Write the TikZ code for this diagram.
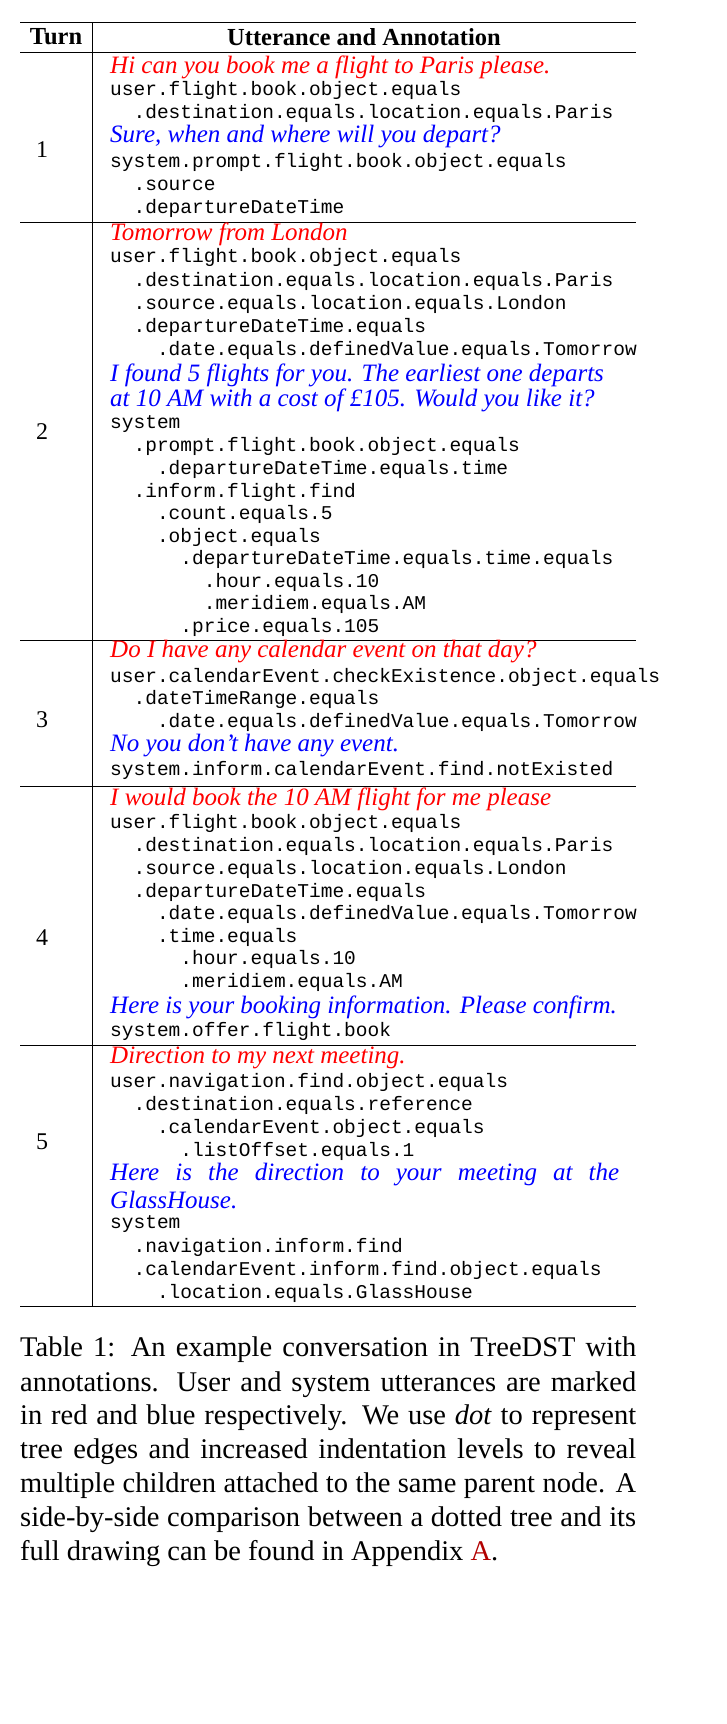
\documentclass[tikz,border=0pt]{standalone}
\usepackage{fontspec}
\setmainfont{Liberation Serif}
\setmonofont{Liberation Mono}
\tikzset{
 mono/.style={anchor=west,inner sep=0pt,font=\fontsize{19.5}{22}\ttfamily},
 usr/.style={anchor=west,inner sep=0pt,text=red,font=\fontsize{25}{28}\itshape},
 sys/.style={anchor=west,inner sep=0pt,text=blue,font=\fontsize{25}{28}\itshape},
 turn/.style={inner sep=0pt,font=\fontsize{24}{26}\selectfont},
 hdr/.style={inner sep=0pt,font=\fontsize{24.5}{26}\bfseries},
 captext/.style={anchor=west,inner sep=0pt,font=\fontsize{28.5}{32}\selectfont},
 rule/.style={line width=0.8pt}
}
\newcommand{\ml}[4]{\node[mono] (#1) at ({110pt+23.4pt*#3},-#2pt) {#4};}
\newcommand{\ut}[4]{\node[#3] (#1) at (110pt,-#2pt) {#4};}
\newcommand{\cl}[3]{\node[captext] (#1) at (20pt,-#2pt) {\hbox to 616pt{#3}};}
\begin{document}
\begin{tikzpicture}
\useasboundingbox (0,0) rectangle (726pt,-1724pt);
\coordinate (tl) at (20pt,-22pt); \coordinate (tr) at (636pt,-22pt);
\draw[rule] (tl) -- (tr);
\foreach \y in {52,222,640,786,1045,1306} \draw[rule] (20pt,-\y pt) -- (636pt,-\y pt);
\draw[rule] (92pt,-22pt) -- (92pt,-1306pt);
\node[hdr] (h1) at (56pt,-37pt) {Turn};
\node[hdr] (h2) at (364pt,-37pt) {Utterance and Annotation};
\node[turn] (t1) at (42pt,-150pt) {1};
\node[turn] (t2) at (42pt,-432pt) {2};
\node[turn] (t3) at (42pt,-720pt) {3};
\node[turn] (t4) at (42pt,-938pt) {4};
\node[turn] (t5) at (42pt,-1142pt) {5};
% row 1
\ut{a1}{67}{usr}{Hi can you book me a flight to Paris please.}
\ml{a2}{90}{0}{user.flight.book.object.equals}
\ml{a3}{113}{1}{.destination.equals.location.equals.Paris}
\ut{a4}{137}{sys}{Sure, when and where will you depart?}
\ml{a5}{162}{0}{system.prompt.flight.book.object.equals}
\ml{a6}{185}{1}{.source}
\ml{a7}{208}{1}{.departureDateTime}
% row 2
\ut{b1}{234}{usr}{Tomorrow from London}
\ml{b2}{257}{0}{user.flight.book.object.equals}
\ml{b3}{281}{1}{.destination.equals.location.equals.Paris}
\ml{b4}{304}{1}{.source.equals.location.equals.London}
\ml{b5}{327}{1}{.departureDateTime.equals}
\ml{b6}{350}{2}{.date.equals.definedValue.equals.Tomorrow}
\ut{b7}{375}{sys}{I found 5 flights for you. The earliest one departs}
\ut{b8}{400}{sys}{at 10 AM with a cost of £105. Would you like it?}
\ml{b9}{424}{0}{system}
\ml{b10}{446}{1}{.prompt.flight.book.object.equals}
\ml{b11}{469}{2}{.departureDateTime.equals.time}
\ml{b12}{492}{1}{.inform.flight.find}
\ml{b13}{514}{2}{.count.equals.5}
\ml{b14}{537}{2}{.object.equals}
\ml{b15}{559}{3}{.departureDateTime.equals.time.equals}
\ml{b16}{582}{4}{.hour.equals.10}
\ml{b17}{604}{4}{.meridiem.equals.AM}
\ml{b18}{627}{3}{.price.equals.105}
% row 3
\ut{c1}{652}{usr}{Do I have any calendar event on that day?}
\ml{c2}{677}{0}{user.calendarEvent.checkExistence.object.equals}
\ml{c3}{699}{1}{.dateTimeRange.equals}
\ml{c4}{722}{2}{.date.equals.definedValue.equals.Tomorrow}
\ut{c5}{746}{sys}{No you don’t have any event.}
\ml{c6}{770}{0}{system.inform.calendarEvent.find.notExisted}
% row 4
\ut{d1}{799}{usr}{I would book the 10 AM flight for me please}
\ml{d2}{823}{0}{user.flight.book.object.equals}
\ml{d3}{846}{1}{.destination.equals.location.equals.Paris}
\ml{d4}{869}{1}{.source.equals.location.equals.London}
\ml{d5}{892}{1}{.departureDateTime.equals}
\ml{d6}{914}{2}{.date.equals.definedValue.equals.Tomorrow}
\ml{d7}{937}{2}{.time.equals}
\ml{d8}{959}{3}{.hour.equals.10}
\ml{d9}{982}{3}{.meridiem.equals.AM}
\ut{d10}{1007}{sys}{Here is your booking information. Please confirm.}
\ml{d11}{1031}{0}{system.offer.flight.book}
% row 5
\ut{e1}{1058}{usr}{Direction to my next meeting.}
\ml{e2}{1082}{0}{user.navigation.find.object.equals}
\ml{e3}{1105}{1}{.destination.equals.reference}
\ml{e4}{1128}{2}{.calendarEvent.object.equals}
\ml{e5}{1151}{3}{.listOffset.equals.1}
\ut{e6}{1175}{sys}{\hbox to 509pt{Here is the direction to your meeting at the}}
\ut{e7}{1200}{sys}{GlassHouse.}
\ml{e8}{1224}{0}{system}
\ml{e9}{1247}{1}{.navigation.inform.find}
\ml{e10}{1270}{1}{.calendarEvent.inform.find.object.equals}
\ml{e11}{1293}{2}{.location.equals.GlassHouse}
% caption
\cl{f1}{1350}{Table 1: An example conversation in TreeDST with}
\cl{f2}{1385}{annotations. User and system utterances are marked}
\cl{f3}{1418}{in red and blue respectively. We use \textit{dot} to represent}
\cl{f4}{1452}{tree edges and increased indentation levels to reveal}
\cl{f5}{1486}{multiple children attached to the same parent node. A}
\cl{f6}{1520}{side-by-side comparison between a dotted tree and its}
\node[captext] (f7) at (20pt,-1554pt) {full drawing can be found in Appendix \textcolor{red!70!black}{A}.};
\end{tikzpicture}
\end{document}
